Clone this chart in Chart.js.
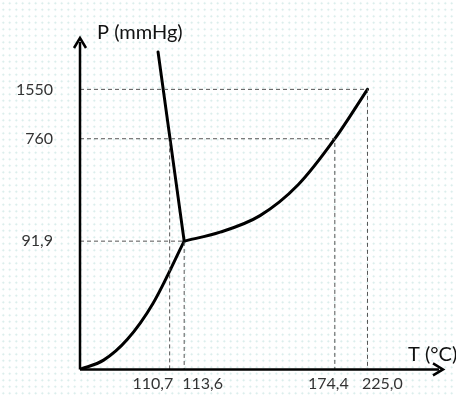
<!DOCTYPE html>
<html>
<head>
<meta charset="utf-8">
<script src="https://cdn.jsdelivr.net/npm/chart.js@4"></script>
<style>
  html, body { margin: 0; padding: 0; }
  body {
    width: 456px; height: 398px;
    background-color: #fff;
    background-image: radial-gradient(circle, #cfe8e6 0.8px, transparent 1.1px);
    background-size: 6.5px 6.5px;
  }
  #wrap { width: 456px; height: 398px; position: relative; }
</style>
</head>
<body>
<div id="wrap"><canvas id="chart"></canvas></div>
<script>
// tick labels (schematic diagram: axes are not to scale)
const tLabels = ['110,7', '113,6', '174,4', '225,0'];
const tPos = [24.7, 28.7, 70.2, 79.2];
const tAlign = ['right', 'left', 'center', 'left'];
const tShift = [3.5, -2, -6.5, -5.5];
const pLabels = ['91,9', '760', '1550'];
const pPos = [38.7, 69.6, 84.5];

// curves, in schematic units
const sublimX = [0, 6.5, 13.0, 20.1, 28.7];
const sublimY = [0, 2.8, 9.0, 19.9, 38.7];
const fusionX = [28.7, 21.5];
const fusionY = [38.7, 95.8];
const vaporX = [28.7, 38.6, 49.6, 60.1, 70.2, 79.2];
const vaporY = [38.7, 41.4, 46.4, 55.7, 69.6, 84.5];

// dashed guides: [T index, P index]
const corners = [[1, 0], [2, 1], [3, 2]];
const vertOnly = [[0, 1]];

const toPts = (xs, ys) => xs.map((x, i) => ({ x, y: ys[i] }));

const curve = (xs, ys, smooth) => ({
    data: toPts(xs, ys),
    showLine: true,
    borderColor: '#000',
    borderWidth: 3,
    pointRadius: 0,
    tension: smooth ? 0.4 : 0,
    cubicInterpolationMode: smooth ? 'monotone' : 'default',
    borderCapStyle: 'round'
});

const guide = pts => ({
    data: pts,
    showLine: true,
    borderColor: '#555',
    borderWidth: 1,
    borderDash: [4, 3],
    pointRadius: 0
});

const datasets = [];
corners.forEach(([ti, pi]) => {
    datasets.push(guide([{ x: 0, y: pPos[pi] }, { x: tPos[ti], y: pPos[pi] }, { x: tPos[ti], y: 0 }]));
});
vertOnly.forEach(([ti, pi]) => {
    datasets.push(guide([{ x: tPos[ti], y: 0 }, { x: tPos[ti], y: pPos[pi] }]));
});
datasets.push(curve(sublimX, sublimY, true));
datasets.push(curve(fusionX, fusionY, false));
datasets.push(curve(vaporX, vaporY, true));

const font = 'Lato, "Liberation Sans", sans-serif';

const axesPlugin = {
    id: 'axes',
    afterDatasetsDraw(chart) {
        const { ctx, chartArea: a, scales } = chart;
        ctx.save();
        ctx.strokeStyle = '#000';
        ctx.fillStyle = '#000';
        ctx.lineWidth = 2.5;
        ctx.beginPath();
        ctx.moveTo(a.left, a.bottom);
        ctx.lineTo(a.left, a.top + 4);
        ctx.moveTo(a.left, a.bottom);
        ctx.lineTo(a.right - 4, a.bottom);
        ctx.stroke();
        // arrowheads
        ctx.beginPath();
        ctx.moveTo(a.left - 6, a.top + 10);
        ctx.lineTo(a.left, a.top);
        ctx.lineTo(a.left + 6, a.top + 10);
        ctx.moveTo(a.right - 10, a.bottom - 6);
        ctx.lineTo(a.right, a.bottom);
        ctx.lineTo(a.right - 10, a.bottom + 6);
        ctx.stroke();
        // T tick labels, each anchored on its own side like the original
        ctx.font = '16px ' + font;
        ctx.fillStyle = '#333';
        ctx.textBaseline = 'alphabetic';
        tLabels.forEach((lab, i) => {
            ctx.textAlign = tAlign[i];
            ctx.fillText(lab, scales.x.getPixelForValue(tPos[i]) + tShift[i], a.bottom + 20);
        });
        // axis titles
        ctx.font = '20px ' + font;
        ctx.fillStyle = '#111';
        ctx.textAlign = 'left';
        ctx.fillText('P (mmHg)', a.left + 17, a.top + 1);
        ctx.fillText('T (°C)', a.right - 35, a.bottom - 8);
        ctx.restore();
    }
};

new Chart(document.getElementById('chart'), {
    type: 'scatter',
    data: { datasets },
    options: {
        responsive: true,
        maintainAspectRatio: false,
        animation: false,
        layout: { padding: { top: 38, right: 13, left: 0, bottom: 0 } },
        plugins: { legend: { display: false }, tooltip: { enabled: false } },
        scales: {
            x: {
                type: 'linear', min: 0, max: 100,
                grid: { display: false },
                border: { display: false },
                afterBuildTicks: s => { s.ticks = tPos.map(v => ({ value: v })); },
                afterFit: s => { s.height = 21; },
                ticks: { display: false }
            },
            y: {
                type: 'linear', min: 0, max: 100,
                grid: { display: false },
                border: { display: false },
                afterBuildTicks: s => { s.ticks = pPos.map(v => ({ value: v })); },
                afterFit: s => { s.width = 80; },
                ticks: {
                    autoSkip: false, padding: 19,
                    color: '#333', font: { family: font, size: 16 },
                    callback: (v, i) => pLabels[i]
                }
            }
        }
    },
    plugins: [axesPlugin]
});
</script>
</body>
</html>
